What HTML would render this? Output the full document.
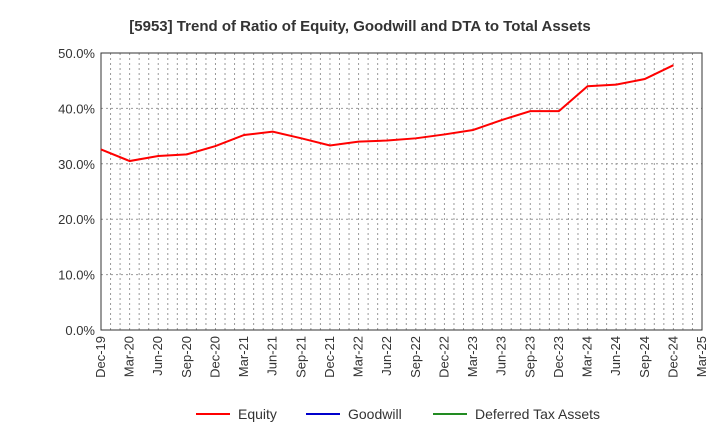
<!DOCTYPE html>
<html><head><meta charset="utf-8"><style>
body{margin:0;background:#fff;font-family:"Liberation Sans",sans-serif;}
</style></head><body>
<svg id="c" width="720" height="440" xmlns="http://www.w3.org/2000/svg">
<text x="360" y="31" text-anchor="middle" font-size="15" font-weight="bold" fill="#333">[5953]  Trend of Ratio of Equity, Goodwill and DTA to Total Assets</text>
<g id="grid"></g><g id="axes"></g><g id="series"></g>
<g font-size="14" fill="#333">
<line x1="196" y1="414" x2="230" y2="414" stroke="#ff0000" stroke-width="2"/><text x="238" y="419">Equity</text>
<line x1="306" y1="414" x2="340" y2="414" stroke="#0000cc" stroke-width="2"/><text x="348" y="419">Goodwill</text>
<line x1="433" y1="414" x2="467" y2="414" stroke="#228b22" stroke-width="2"/><text x="475" y="419">Deferred Tax Assets</text>
</g>
</svg>
<script>
const categories=["Dec-19","Mar-20","Jun-20","Sep-20","Dec-20","Mar-21","Jun-21","Sep-21","Dec-21","Mar-22","Jun-22","Sep-22","Dec-22","Mar-23","Jun-23","Sep-23","Dec-23","Mar-24","Jun-24","Sep-24","Dec-24","Mar-25"];
const equity=[32.6,30.5,31.4,31.7,33.2,35.2,35.8,34.6,33.3,34.0,34.2,34.6,35.3,36.1,37.9,39.5,39.5,44.0,44.3,45.3,47.8];
const yTicks=[0,10,20,30,40,50];
const L=101,R=702,T=53,B=330,NS="http://www.w3.org/2000/svg";
const xs=i=>L+i*(R-L)/(categories.length-1);
const ys=v=>B-(v/50)*(B-T);
function mk(t,a,p){const e=document.createElementNS(NS,t);for(const k in a)e.setAttribute(k,a[k]);p.appendChild(e);return e;}
const g=document.getElementById('grid'),ax=document.getElementById('axes'),s=document.getElementById('series');
const months=(categories.length-1)*3;
for(let m=1;m<months;m++){const x=L+m*(R-L)/months;
const l=mk('line',{x1:x,x2:x,y1:T,y2:B,stroke:'#999','stroke-dasharray':'2,3'},g);

}
yTicks.forEach(v=>{const y=ys(v);
if(v>0&&v<50){const l=mk('line',{x1:L,x2:R,y1:y,y2:y,stroke:'#999','stroke-dasharray':'2,3'},g);

}
const t=mk('text',{x:L-6,y:y+5,'text-anchor':'end','font-size':13,fill:'#333'},ax);t.textContent=v.toFixed(1)+'%';

});
const fr=mk('rect',{x:L,y:T,width:R-L,height:B-T,fill:'none',stroke:'#333','stroke-width':1},ax);


categories.forEach((c,i)=>{const x=xs(i);
const t=mk('text',{x:x+4,y:B+6,'text-anchor':'end','font-size':13,fill:'#333',transform:`rotate(-90 ${x+4} ${B+6})`},ax);t.textContent=c;

});
const p=mk('polyline',{points:equity.map((v,i)=>xs(i)+','+ys(v)).join(' '),fill:'none',stroke:'#ff0000','stroke-width':2},s);


</script>
</body></html>
